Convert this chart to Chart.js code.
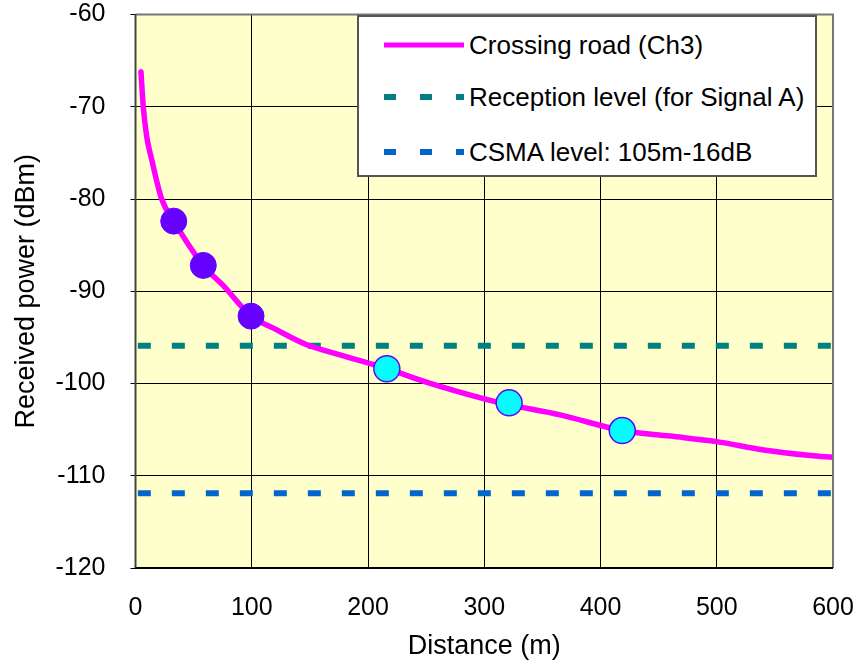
<!DOCTYPE html>
<html>
<head>
<meta charset="utf-8">
<script src="https://cdn.jsdelivr.net/npm/chart.js@4.4.1/dist/chart.umd.min.js"></script>
<style>
  body { margin: 0; background: #fff; }
  #wrap { position: relative; width: 860px; height: 668px; }
  #legend {
    position: absolute; left: 357px; top: 15px; width: 460px; height: 162px;
    background: #fff; border: 2px solid #555; box-sizing: border-box;
    font-family: "Liberation Sans", Arial, sans-serif; font-size: 26px; color: #000;
  }
  .row { position: absolute; left: 0; height: 30px; display: flex; align-items: center; white-space: nowrap; }
  .row svg { margin-left: 25px; margin-right: 5px; }
</style>
</head>
<body>
<div id="wrap">
  <canvas id="chart" width="860" height="668"></canvas>
  <div id="legend"></div>
</div>
<script>
// Crossing road (Ch3) curve
const distance = [4.7, 6.7, 9.6, 13.9, 22.5, 32.9, 58.3, 75.6, 99.4, 118.6, 147.3, 176, 216.2, 256.3, 313.7, 365.3, 418.7, 460, 499.8, 540.3, 580.5, 600];
const power = [-66.2, -70, -73.2, -75.7, -80, -82.4, -87.2, -89.4, -92.7, -94.0, -95.8, -96.9, -98.4, -100.1, -102.1, -103.4, -105.1, -105.7, -106.3, -107.2, -107.8, -108.0];

// marked points
const nearX = [32.9, 58.3, 99.4];
const nearY = [-82.4, -87.2, -92.7];
const farX = [216.2, 321.4, 418.7];
const farY = [-98.4, -102.1, -105.1];

// horizontal levels
const levelX = [2, 600];
const receptionLevel = -95.9;
const csmaLevel = -111.9;

const labels = ['Crossing road (Ch3)', 'Reception level (for Signal A)', 'CSMA level: 105m-16dB'];
const xTicks = [0, 100, 200, 300, 400, 500, 600];
const yTicks = [-120, -110, -100, -90, -80, -70, -60];

const FONT = '"Liberation Sans", Arial, sans-serif';

function pts(xs, ys) {
  return xs.map((x, i) => ({ x: x, y: Array.isArray(ys) ? ys[i] : ys }));
}

// yellow plot background + frame
const plotBg = {
  id: 'plotBg',
  beforeDraw(chart) {
    const a = chart.chartArea, ctx = chart.ctx;
    ctx.save();
    ctx.fillStyle = '#FFFFCC';
    ctx.fillRect(a.left, a.top, a.right - a.left, a.bottom - a.top);
    ctx.restore();
  },
  afterDraw(chart) {
    const a = chart.chartArea, ctx = chart.ctx;
    ctx.save();
    ctx.strokeStyle = '#777';
    ctx.lineWidth = 2;
    ctx.beginPath();
    ctx.moveTo(a.left, a.top);
    ctx.lineTo(a.right, a.top);
    ctx.lineTo(a.right, a.bottom);
    ctx.stroke();
    ctx.strokeStyle = '#444';
    ctx.beginPath();
    ctx.moveTo(a.left, a.top);
    ctx.lineTo(a.left, a.bottom);
    ctx.stroke();
    ctx.strokeStyle = '#000';
    ctx.beginPath();
    ctx.moveTo(a.left, a.bottom);
    ctx.lineTo(a.right, a.bottom);
    ctx.stroke();
    ctx.restore();
  }
};

var ctx = document.getElementById('chart').getContext('2d');
var chart = new Chart(ctx, {
  type: 'scatter',
  data: {
    datasets: [
      {
        label: labels[1],
        data: pts(levelX, receptionLevel),
        showLine: true,
        borderColor: '#008080',
        borderWidth: 6,
        borderDash: [13, 21],
        pointRadius: 0,
        order: 5
      },
      {
        label: labels[2],
        data: pts(levelX, csmaLevel),
        showLine: true,
        borderColor: '#0066CC',
        borderWidth: 6,
        borderDash: [13, 21],
        pointRadius: 0,
        order: 4
      },
      {
        label: labels[0],
        data: pts(distance, power),
        showLine: true,
        borderColor: '#FF00FF',
        borderWidth: 5.5,
        borderCapStyle: 'round',
        cubicInterpolationMode: 'monotone',
        pointRadius: 0,
        order: 3
      },
      {
        label: 'near',
        data: pts(nearX, nearY),
        backgroundColor: '#6600FF',
        borderColor: '#6600FF',
        borderWidth: 1,
        pointRadius: 13,
        order: 2
      },
      {
        label: 'far',
        data: pts(farX, farY),
        backgroundColor: '#00FFFF',
        borderColor: '#6600FF',
        borderWidth: 1.5,
        pointRadius: 13,
        order: 1
      }
    ]
  },
  options: {
    responsive: false,
    animation: false,
    layout: { padding: { left: 0, right: 27, top: 10, bottom: 0 } },
    plugins: {
      legend: { display: false },
      tooltip: { enabled: false }
    },
    scales: {
      x: {
        type: 'linear',
        min: 0, max: 600,
        afterBuildTicks: s => { s.ticks = xTicks.map(v => ({ value: v })); },
        afterFit: s => { s.height = 100; s.paddingLeft = 0; s.paddingRight = 0; },
        grid: { color: '#000', lineWidth: 1, drawTicks: false },
        border: { display: false },
        ticks: { color: '#000', padding: 25, maxRotation: 0, font: { family: FONT, size: 25 } },
        title: {
          display: true, text: 'Distance (m)', color: '#000',
          font: { family: FONT, size: 27 }, padding: { top: 0, bottom: 5 }
        }
      },
      y: {
        type: 'linear',
        min: -120, max: -60,
        afterBuildTicks: s => { s.ticks = yTicks.map(v => ({ value: v })); },
        afterFit: s => { s.width = 135.5; s.paddingTop = 0; s.paddingBottom = 0; },
        grid: { color: '#000', lineWidth: 1, tickLength: 5 },
        border: { display: false },
        ticks: { color: '#000', padding: 25, font: { family: FONT, size: 25 } },
        title: {
          display: true, text: 'Received power (dBm)', color: '#000',
          font: { family: FONT, size: 27 }, padding: { top: 10, bottom: 0 }
        }
      }
    }
  },
  plugins: [plotBg]
});

// legend box drawn as html on top of the plot
const legendStyles = [
  { color: '#FF00FF', dash: '' },
  { color: '#008080', dash: '12 24' },
  { color: '#0066CC', dash: '12 24' }
];
const rowTops = [13, 65, 120];
const legendBox = document.getElementById('legend');
labels.forEach((name, i) => {
  const row = document.createElement('div');
  row.className = 'row';
  row.style.top = rowTops[i] + 'px';
  const st = legendStyles[i];
  row.innerHTML =
    '<svg width="80" height="10"><line x1="0" y1="5" x2="80" y2="5" stroke="' + st.color +
    '" stroke-width="' + (i === 0 ? 5 : 6) + '"' + (st.dash ? ' stroke-dasharray="' + st.dash + '"' : ' stroke-linecap="round"') +
    '/></svg><span>' + name + '</span>';
  legendBox.appendChild(row);
});
</script>
</body>
</html>
